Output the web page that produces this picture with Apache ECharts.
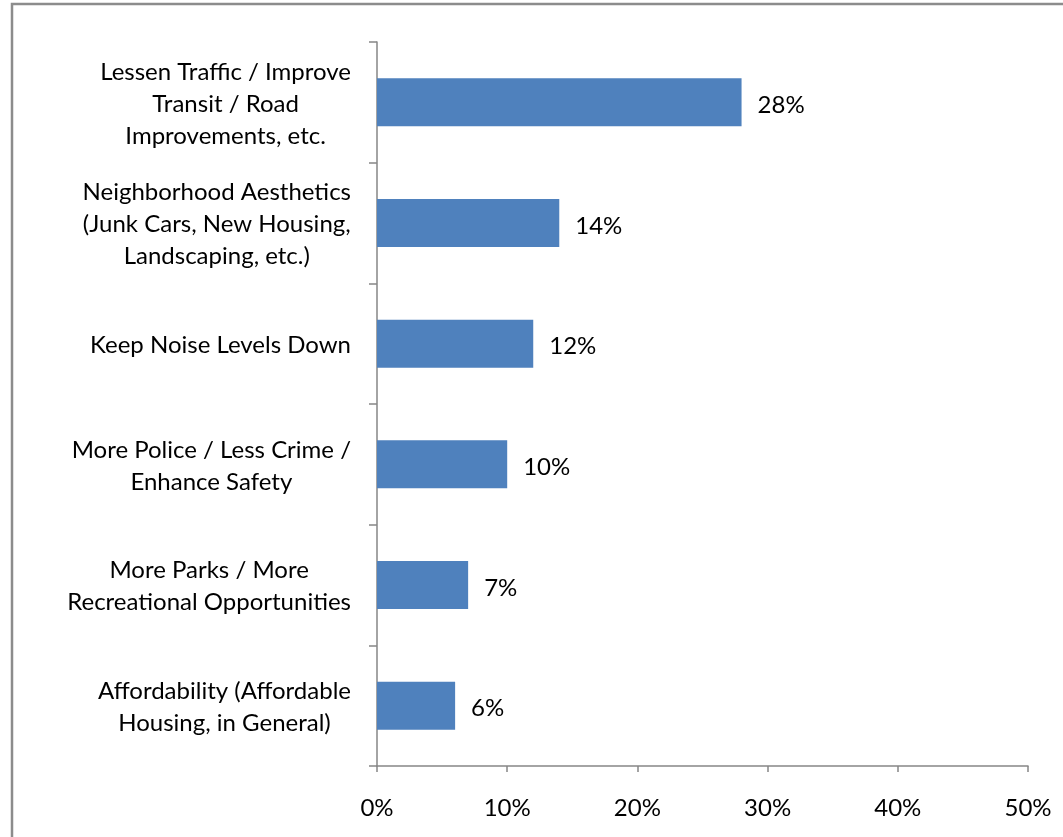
<!DOCTYPE html>
<html><head><meta charset="utf-8">
<script src="https://cdn.jsdelivr.net/npm/echarts@6/dist/echarts.min.js"></script>
<style>html,body{margin:0;padding:0;background:#fff}#c{width:1063px;height:837px}</style>
</head><body><div id="c"></div>
<script>
const categories = [
  "Lessen Traffic / Improve\nTransit / Road\nImprovements, etc.",
  "Neighborhood Aesthetics\n(Junk Cars, New Housing,\nLandscaping, etc.)",
  "Keep Noise Levels Down",
  "More Police / Less Crime /\nEnhance Safety",
  "More Parks / More\nRecreational Opportunities",
  "Affordability (Affordable\nHousing, in General)"
];
const values = [28, 14, 12, 10, 7, 6];
const xTicks = [0, 10, 20, 30, 40, 50];

const FONT = 'Lato';
const chart = echarts.init(document.getElementById('c'));
chart.setOption({
  animation: false,
  grid: {left: 377, right: 35, top: 42, bottom: 71, containLabel: false},
  graphic: [{
    type: 'rect', shape: {x: 12, y: 4, width: 1100, height: 900},
    style: {fill: 'none', stroke: '#8c8c8c', lineWidth: 2.5}, silent: true
  }],
  xAxis: {
    type: 'value', min: xTicks[0], max: xTicks[xTicks.length - 1], interval: 10,
    axisLine: {show: true, lineStyle: {color: '#868686', width: 1.5}},
    axisTick: {show: true, length: 6, lineStyle: {color: '#868686', width: 1.5}},
    splitLine: {show: false},
    axisLabel: {formatter: v => v + '%', fontFamily: FONT, fontSize: 24, color: '#000', margin: 30}
  },
  yAxis: {
    type: 'category', data: categories, inverse: true,
    axisLine: {show: true, lineStyle: {color: '#868686', width: 1.5}},
    axisTick: {show: true, length: 8, inside: false, lineStyle: {color: '#868686', width: 1.5}},
    axisLabel: {
      margin: 26, color: '#000', fontFamily: FONT, fontSize: 24, lineHeight: 32, align: 'right',
      formatter: v => v.split('\n').map(l => '{c|' + l + '}').join('\n'),
      rich: {c: {align: 'center', fontFamily: FONT, fontSize: 24, lineHeight: 32, color: '#000', padding: [3, 0, 0, 0]}}
    }
  },
  series: [{
    type: 'bar', data: values, barWidth: 48,
    itemStyle: {color: '#4F81BD'},
    label: {show: true, position: 'right', distance: 16, offset: [0, 3], formatter: p => p.value + '%',
      fontFamily: FONT, fontSize: 24, color: '#000'}
  }]
});
</script></body></html>
